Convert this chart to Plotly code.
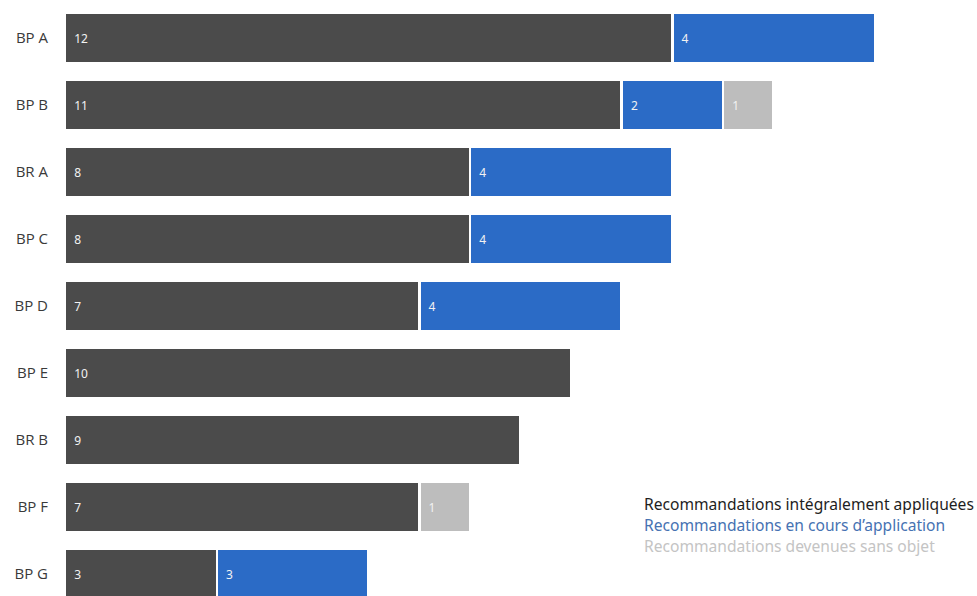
import plotly.graph_objects as go

categories = ["BP A", "BP B", "BR A", "BP C", "BP D", "BP E", "BR B", "BP F", "BP G"]
appliquees = [12, 11, 8, 8, 7, 10, 9, 7, 3]
en_cours = [4, 2, 4, 4, 4, None, None, None, 3]
sans_objet = [None, 1, None, None, None, None, None, 1, None]

series_names = [
    "Recommandations intégralement appliquées",
    "Recommandations en cours d\u2019application",
    "Recommandations devenues sans objet",
]
bar_colors = ["#4b4b4b", "#2b6bc6", "#bdbdbd"]
legend_colors = ["#1e1e1e", "#4672b2", "#c4c4c4"]

fig = go.Figure()
for name, vals, col in zip(series_names, [appliquees, en_cours, sans_objet], bar_colors):
    fig.add_trace(go.Bar(
        y=categories,
        x=vals,
        name=name,
        orientation="h",
        marker=dict(color=col, line=dict(color="white", width=2.5)),
        text=["\u00a0\u00a0" + str(v) if v else "" for v in vals],
        textposition="inside",
        insidetextanchor="start",
        textfont=dict(family="Noto Sans", size=12, color="#f2f2f2"),
        textangle=0,
        showlegend=False,
    ))

# text-only legend at lower right
for i, (name, col) in enumerate(zip(series_names, legend_colors)):
    fig.add_annotation(
        x=642, y=504 + i * 21, xref="paper", yref="paper",
        text=name, showarrow=False, xanchor="left", yanchor="middle",
        font=dict(family="Noto Sans", size=15.6, color=col),
    )

fig.update_layout(
    width=977, height=596,
    margin=dict(l=65, r=0, t=4, b=0),
    barmode="stack",
    bargap=0.25,
    plot_bgcolor="white",
    paper_bgcolor="white",
    uniformtext=dict(minsize=8, mode="show"),
)
fig.update_xaxes(range=[0, 18.02], visible=False)
fig.update_yaxes(
    range=[8.326, -0.51], showgrid=False, zeroline=False, showline=False,
    ticks="", ticklabelstandoff=16,
    tickfont=dict(family="Open Sans", size=15, color="#3a3a3a"),
)

# convert legend pixel positions to paper coordinates
plot_w = 977 - 65
plot_h = 596 - 4
for ann in fig.layout.annotations:
    ann.x = (ann.x - 65) / plot_w
    ann.y = 1 - (ann.y - 4) / plot_h

fig.write_html("out.html")
